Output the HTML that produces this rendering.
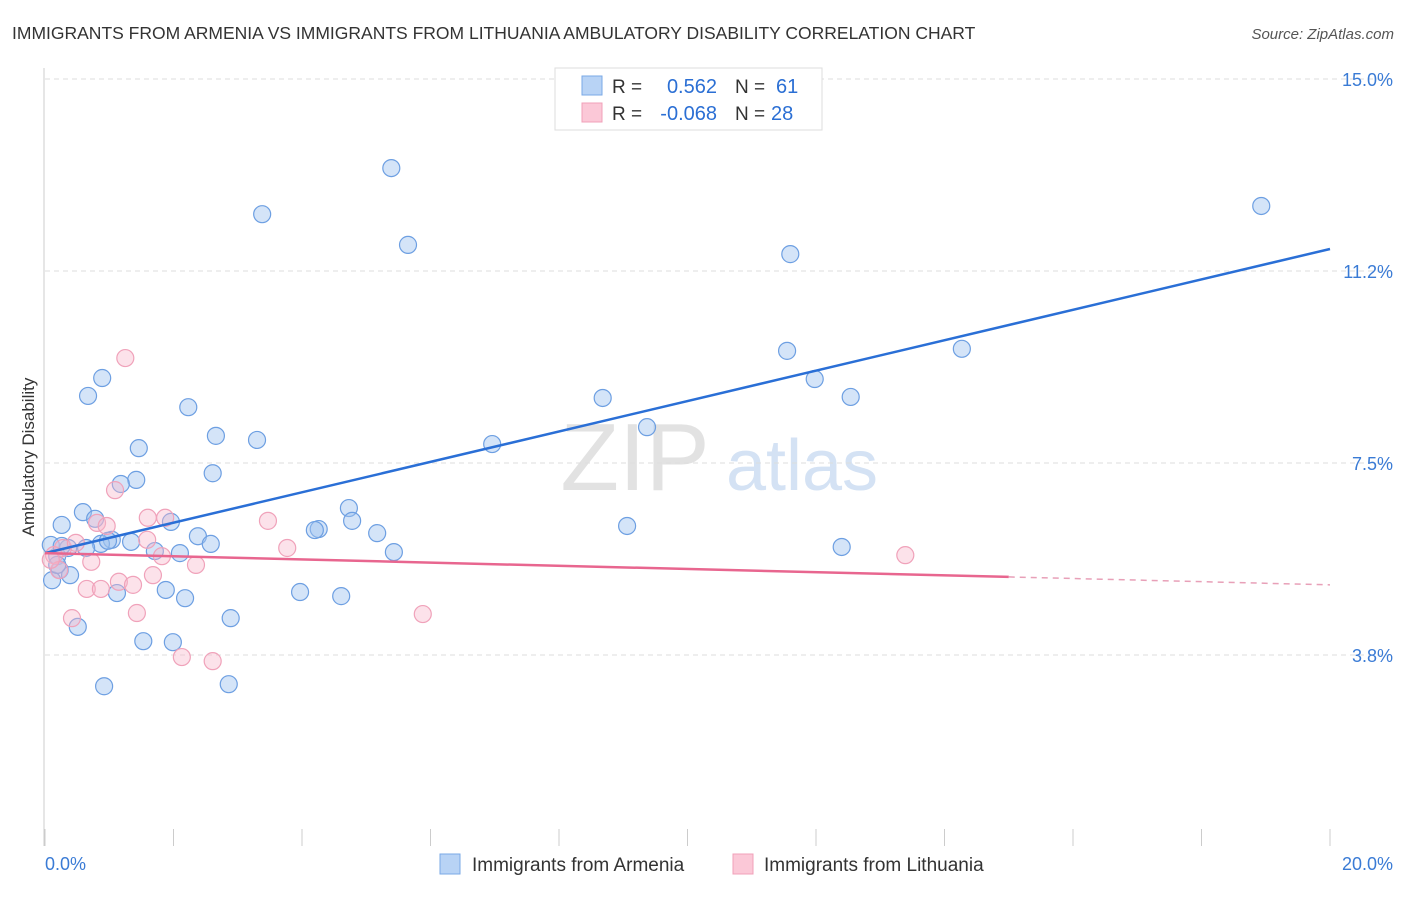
<!DOCTYPE html>
<html><head><meta charset="utf-8"><style>
body{margin:0;background:#fff;font-family:"Liberation Sans",sans-serif;}
svg text{font-family:"Liberation Sans",sans-serif;}
</style></head><body>
<svg id="chart" width="1406" height="892" xmlns="http://www.w3.org/2000/svg">
<text x="12" y="39" font-size="17.5" fill="#333">IMMIGRANTS FROM ARMENIA VS IMMIGRANTS FROM LITHUANIA AMBULATORY DISABILITY CORRELATION CHART</text>
<text x="1394" y="39" font-size="15" fill="#555" text-anchor="end" font-style="italic">Source: ZipAtlas.com</text>
<text transform="translate(34,457) rotate(-90)" font-size="17" fill="#333" text-anchor="middle">Ambulatory Disability</text>
<g><text x="635" y="490" font-size="96" fill="#e2e2e2" font-family="Liberation Serif" text-anchor="middle">ZIP</text><text x="802" y="490" font-size="72" fill="#d4e2f4" text-anchor="middle">atlas</text></g>
<g id="grid"></g><g id="axes"></g><g id="pts"></g><g id="trend"></g>
<g>
<rect x="555" y="68" width="267" height="62" fill="#fff" stroke="#ddd"/>
<rect x="582" y="76" width="20" height="19" fill="#b8d3f5" stroke="#7aa8e6"/>
<rect x="582" y="103" width="20" height="19" fill="#fbc8d7" stroke="#f0a0b8"/>
<text x="612" y="93" font-size="19" fill="#333">R =</text><text x="717" y="93" font-size="20" fill="#2b6fd4" text-anchor="end">0.562</text>
<text x="735" y="93" font-size="19" fill="#333">N =</text><text x="776" y="93" font-size="20" fill="#2b6fd4">61</text>
<text x="612" y="120" font-size="19" fill="#333">R =</text><text x="717" y="120" font-size="20" fill="#2b6fd4" text-anchor="end">-0.068</text>
<text x="735" y="120" font-size="19" fill="#333">N =</text><text x="771" y="120" font-size="20" fill="#2b6fd4">28</text>
</g>
<g>
<rect x="440" y="854" width="20" height="20" fill="#b8d3f5" stroke="#7aa8e6"/>
<text x="472" y="871" font-size="19" fill="#333">Immigrants from Armenia</text>
<rect x="733" y="854" width="20" height="20" fill="#fbc8d7" stroke="#f0a0b8"/>
<text x="764" y="871" font-size="19" fill="#333">Immigrants from Lithuania</text>
</g>
</svg>
<script>
const blueX=[5.39,3.38,5.65,18.93,11.60,11.55,14.27,11.98,12.54,8.68,9.37,6.96,0.89,0.67,2.23,2.66,3.30,1.46,2.61,1.42,1.18,0.59,4.73,0.26,0.78,1.96,4.26,4.20,4.78,5.17,9.06,12.40,5.43,1.04,1.34,2.38,2.58,0.87,0.64,1.71,2.10,0.36,0.19,0.23,0.39,0.11,1.12,1.88,2.18,3.97,4.61,2.89,0.51,1.53,1.99,0.92,2.86,0.09,0.26,0.98,0.19];
const blueY=[13.26,12.36,11.76,12.52,11.58,9.69,9.73,9.14,8.79,8.77,8.20,7.87,9.16,8.81,8.59,8.03,7.95,7.79,7.30,7.17,7.09,6.54,6.62,6.29,6.41,6.35,6.21,6.19,6.37,6.13,6.27,5.86,5.76,6.00,5.96,6.07,5.92,5.92,5.84,5.78,5.74,5.84,5.68,5.41,5.31,5.21,4.96,5.02,4.86,4.98,4.90,4.47,4.30,4.02,4.00,3.14,3.18,5.90,5.88,5.98,5.51];
const pinkX=[1.25,1.09,1.60,1.87,3.47,0.81,0.96,0.28,0.48,1.59,1.82,3.77,13.39,0.72,0.14,0.22,2.35,1.68,1.15,1.37,0.65,0.87,0.42,1.43,5.88,2.13,2.61,0.09];
const pinkY=[9.55,6.97,6.43,6.43,6.37,6.33,6.27,5.84,5.94,6.00,5.68,5.84,5.70,5.57,5.70,5.41,5.51,5.31,5.18,5.12,5.04,5.04,4.47,4.57,4.55,3.71,3.63,5.61];
const yTicks=[3.75,7.5,11.25,15];
const yTickLabels=["3.8%","7.5%","11.2%","15.0%"];
const xTicks=[0,2,4,6,8,10,12,14,16,18,20];
const blueTrend=[5.74,0.297];   // intercept, slope
const pinkTrend=[5.74,-0.031];
const pinkSolidEnd=15.0;
const NS="http://www.w3.org/2000/svg";
const X=v=>45+v*64.25, Y=v=>847-v*51.2;
function mk(tag,attrs,parent){const e=document.createElementNS(NS,tag);for(const k in attrs)e.setAttribute(k,attrs[k]);parent.appendChild(e);return e;}
const grid=document.getElementById('grid'),axes=document.getElementById('axes'),pts=document.getElementById('pts'),tr=document.getElementById('trend');
yTicks.forEach((t,i)=>{
 const l=mk('line',{x1:45,x2:1392,y1:Y(t),y2:Y(t),stroke:'#ddd','stroke-dasharray':'5,4'},grid);
 
 
 const tx=mk('text',{x:1393,y:Y(t)+7,'font-size':18,fill:'#3a7bd5','text-anchor':'end'},axes);
 tx.textContent=yTickLabels[i];
 
 
});
const la=mk('line',{x1:44,x2:44,y1:68,y2:846,stroke:'#ccc'},axes);


xTicks.forEach(t=>{
 const l=mk('line',{x1:X(t),x2:X(t),y1:829,y2:846,stroke:'#ccc'},axes);
 
 
});
[["0.0%",45,'start'],["20.0%",1393,'end']].forEach(a=>{
 const tx=mk('text',{x:a[1],y:870,'font-size':18,fill:'#3a7bd5','text-anchor':a[2]},axes);
 tx.textContent=a[0];
 
 
});
blueX.forEach((v,i)=>{
 const c=mk('circle',{cx:X(v),cy:Y(blueY[i]),r:8.5,fill:'rgba(160,196,240,0.45)',stroke:'#6d9fe2','stroke-width':1.2},pts);
 
 
});
pinkX.forEach((v,i)=>{
 const c=mk('circle',{cx:X(v),cy:Y(pinkY[i]),r:8.5,fill:'rgba(248,182,202,0.4)',stroke:'#f0a2ba','stroke-width':1.2},pts);
 
 
});
const bl=mk('line',{x1:X(0),y1:Y(blueTrend[0]),x2:X(20),y2:Y(blueTrend[0]+20*blueTrend[1]),stroke:'#2a6fd6','stroke-width':2.5},tr);


const pl=mk('line',{x1:X(0),y1:Y(pinkTrend[0]),x2:X(pinkSolidEnd),y2:Y(pinkTrend[0]+pinkSolidEnd*pinkTrend[1]),stroke:'#e8668f','stroke-width':2.5},tr);


const pd=mk('line',{x1:X(pinkSolidEnd),y1:Y(pinkTrend[0]+pinkSolidEnd*pinkTrend[1]),x2:X(20),y2:Y(pinkTrend[0]+20*pinkTrend[1]),stroke:'#e8a0b8','stroke-width':1.5,'stroke-dasharray':'6,5'},tr);


</script>
</body></html>
